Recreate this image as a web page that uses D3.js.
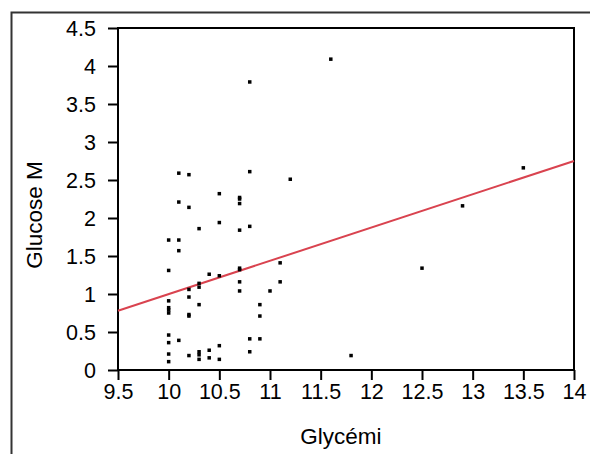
<!DOCTYPE html>
<html>
<head>
<meta charset="utf-8">
<script src="https://cdn.jsdelivr.net/npm/d3@7"></script>
<style>
  body { margin: 0; background: #fff; }
  text { font-family: "Liberation Sans", Arial, sans-serif; fill: #000; }
</style>
</head>
<body>
<div id="chart"></div>
<script>
// glycemie vs glucose M scatter, with fitted line

var glycemi = [
  10.0, 10.0, 10.0, 10.0, 10.0, 10.0, 10.0, 10.0, 10.0, 10.0,
  10.1, 10.1, 10.1, 10.1, 10.1,
  10.2, 10.2, 10.2, 10.2, 10.2, 10.2, 10.2,
  10.3, 10.3, 10.3, 10.3, 10.3, 10.3, 10.3,
  10.4, 10.4, 10.4,
  10.5, 10.5, 10.5, 10.5, 10.5,
  10.7, 10.7, 10.7, 10.7, 10.7, 10.7, 10.7, 10.7,
  10.8, 10.8, 10.8, 10.8, 10.8,
  10.9, 10.9, 10.9,
  11.0, 11.1, 11.1, 11.2, 11.6, 11.8, 12.5, 12.9, 13.5
]
var glucoseM = [
  1.71, 1.31, 0.91, 0.82, 0.79, 0.75, 0.46, 0.36, 0.21, 0.11,
  2.59, 2.21, 1.71, 1.57, 0.39,
  2.57, 2.14, 1.06, 0.96, 0.73, 0.71, 0.19,
  1.86, 1.14, 1.09, 0.86, 0.24, 0.20, 0.14,
  1.26, 0.26, 0.16,
  2.32, 1.94, 1.24, 0.32, 0.14,
  2.27, 2.25, 2.19, 1.84, 1.34, 1.32, 1.16, 1.04,
  3.79, 2.61, 1.89, 0.41, 0.24,
  0.86, 0.71, 0.41,
  1.04, 1.41, 1.16, 2.51, 4.09, 0.19, 1.34, 2.16, 2.66
]

// fitted line, read at both ends of the x axis
var fitX = [9.5, 14]
var fitY = [0.78, 2.75]

var xTicks = [9.5, 10, 10.5, 11, 11.5, 12, 12.5, 13, 13.5, 14]
var yTicks = [0, 0.5, 1, 1.5, 2, 2.5, 3, 3.5, 4, 4.5]

var x_label = "Glycémi"
var y_label = "Glucose M"

var width = 590
var height = 454
var margin = {top: 28, right: 16, bottom: 84, left: 118}
var fontSize = 21.5

var svg = d3.select("#chart")
  .append("svg")
    .attr("width", width)
    .attr("height", height)

// outer frame (only top and left visible)
svg.append("path")
  .attr("d", "M11.5," + height + "V12.5H" + width)
  .attr("fill", "none")
  .attr("stroke", "#333")
  .attr("stroke-width", 2)

var xScale = d3.scaleLinear()
  .domain([9.5, 14])
  .range([margin.left, width - margin.right])
var yScale = d3.scaleLinear()
  .domain([0, 4.5])
  .range([height - margin.bottom, margin.top])

var fmt = function(d) { return d3.format("")(d) }

var xAxis = svg.append("g")
  .attr("transform", "translate(0," + (height - margin.bottom) + ")")
  .call(d3.axisBottom(xScale).tickValues(xTicks).tickFormat(fmt).tickSize(10).tickPadding(4))
var yAxis = svg.append("g")
  .attr("transform", "translate(" + margin.left + ",0)")
  .call(d3.axisLeft(yScale).tickValues(yTicks).tickFormat(fmt).tickSize(10).tickPadding(12))

svg.selectAll(".domain").remove()
svg.selectAll(".tick line").attr("stroke", "#000").attr("stroke-width", 2)
svg.selectAll(".tick text")
  .attr("font-family", "Liberation Sans, Arial, sans-serif")
  .attr("font-size", fontSize)
  .attr("fill", "#000")
yAxis.selectAll(".tick text").attr("dy", "0.36em")

// plot box
svg.append("rect")
  .attr("x", xScale(9.5))
  .attr("y", yScale(4.5))
  .attr("width", xScale(14) - xScale(9.5))
  .attr("height", yScale(0) - yScale(4.5))
  .attr("fill", "none")
  .attr("stroke", "#000")
  .attr("stroke-width", 2)

// regression line
svg.append("line")
  .attr("x1", xScale(fitX[0]))
  .attr("y1", yScale(fitY[0]))
  .attr("x2", xScale(fitX[1]))
  .attr("y2", yScale(fitY[1]))
  .attr("stroke", "#d9434f")
  .attr("stroke-width", 2)

var s = 3.5
svg.append("g").selectAll("rect")
  .data(d3.range(glycemi.length))
  .enter()
    .append("rect")
    .attr("x", function(i) { return xScale(glycemi[i]) - s / 2 })
    .attr("y", function(i) { return yScale(glucoseM[i]) - s / 2 })
    .attr("width", s)
    .attr("height", s)
    .attr("fill", "#000")

svg.append("text")
  .attr("x", 341)
  .attr("y", 444)
  .attr("text-anchor", "middle")
  .attr("font-size", fontSize + 1)
  .text(x_label)

svg.append("text")
  .attr("transform", "translate(42," + ((yScale(0) + yScale(4.5)) / 2 + 16) + ")rotate(-90)")
  .attr("text-anchor", "middle")
  .attr("font-size", fontSize + 1)
  .text(y_label)
</script>
</body>
</html>
